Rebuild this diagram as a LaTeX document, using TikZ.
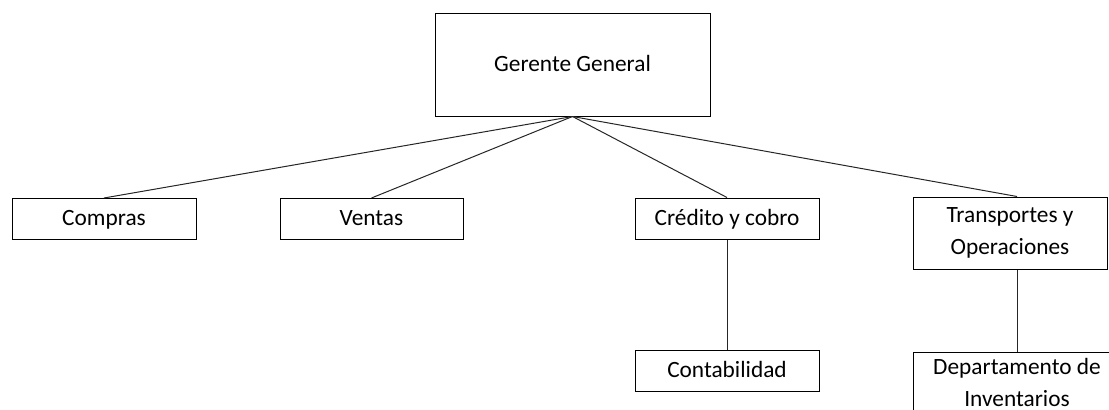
\documentclass[tikz,border=0pt]{standalone}
\usepackage{fontspec}
\setmainfont{Carlito}
\usepackage{tikz}
\usetikzlibrary{positioning,calc}

\begin{document}
\begin{tikzpicture}[
x=0.75pt, y=-0.75pt,
font=\fontsize{17.5}{24.5}\selectfont,
basebox/.style={draw, line width=0.75pt, align=center, inner sep=0pt, minimum width=138pt},
box/.style={basebox, minimum height=30.75pt, execute at begin node=\strut},
tallbox/.style={basebox, minimum height=54pt},
line/.style={line width=0.75pt, draw=black!85}
]
\clip (0,0) rectangle (1109,410);
\node[box, minimum width=206.25pt, minimum height=76.5pt] (gerente) at (572.5,65) {Gerente General};
\node[box] (compras) at (104,219) {Compras};
\node[box, minimum width=137.25pt] (ventas) at (371.5,219) {Ventas};
\node[box] (credito) at (727,218.5) {Crédito y cobro};
\node[tallbox, minimum width=145.5pt] (transp) at (1010,233) {Transportes y\\Operaciones};
\node[tallbox, minimum width=156pt, minimum height=45pt, anchor=north] (invent) at (1017,352) {Departamento de\\Inventarios};
\node[box] (conta) at (727,370.5) {Contabilidad};

\draw[line] (gerente.south) -- (compras.north);
\draw[line] (gerente.south) -- (ventas.north);
\draw[line] (gerente.south) -- (credito.north);
\draw[line] (gerente.south) -- (transp.north -| invent.north);
\draw[line] (credito) -- (conta);
\draw[line] (invent.north) -- (invent.north |- transp.south);
\end{tikzpicture}
\end{document}
